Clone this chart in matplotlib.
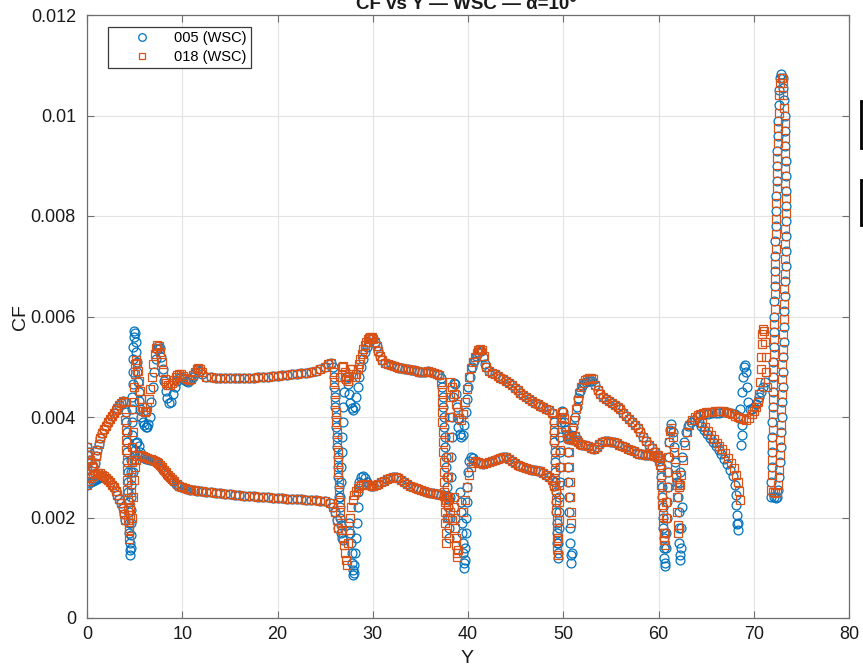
import numpy as np
import matplotlib
matplotlib.use("Agg")
import matplotlib.pyplot as plt
from matplotlib.patches import Rectangle

plt.rcParams['font.family'] = ['Liberation Sans', 'DejaVu Sans']

# all pairs are (Y, CF * 1e3)

# --- parts where both runs lie on top of each other ---
start_cluster = [(0.0, 2.65), (0.0, 2.8), (0.0, 2.95), (0.0, 3.1), (0.0, 3.25), (0.05, 3.4)]
upper_rise = [(0.2, 3.3), (0.35, 3.15), (0.5, 3.02), (0.65, 3.0), (0.8, 3.08), (0.95, 3.22), (1.1, 3.35),
              (1.25, 3.47), (1.4, 3.58), (1.6, 3.68), (1.8, 3.76), (2.0, 3.83), (2.2, 3.9), (2.4, 3.96),
              (2.6, 4.02), (2.8, 4.08), (3.0, 4.13), (3.2, 4.18), (3.4, 4.23), (3.6, 4.28), (3.8, 4.31),
              (4.0, 4.3)]
upper_flat = [(12.5, 4.8), (13.0, 4.79), (13.5, 4.78), (14.0, 4.78), (14.5, 4.78), (15.0, 4.77), (15.5, 4.77),
              (16.0, 4.77), (16.5, 4.77), (17.0, 4.77), (17.5, 4.78), (18.0, 4.79), (18.5, 4.8), (19.0, 4.8),
              (19.5, 4.81), (20.0, 4.82), (20.5, 4.83), (21.0, 4.84), (21.5, 4.85), (22.0, 4.86), (22.5, 4.87),
              (23.0, 4.88), (23.5, 4.9), (24.0, 4.92), (24.5, 4.96), (25.0, 5.0), (25.3, 5.05), (25.6, 5.08)]
lower_flat = [(12.5, 2.51), (13.0, 2.5), (13.5, 2.49), (14.0, 2.48), (14.5, 2.47), (15.0, 2.46), (15.5, 2.45),
              (16.0, 2.44), (16.5, 2.43), (17.0, 2.42), (17.5, 2.42), (18.0, 2.41), (18.5, 2.4), (19.0, 2.4),
              (19.5, 2.39), (20.0, 2.38), (20.5, 2.38), (21.0, 2.37), (21.5, 2.37), (22.0, 2.36), (22.5, 2.36),
              (23.0, 2.35), (23.5, 2.35), (24.0, 2.34), (24.5, 2.33), (25.0, 2.32), (25.5, 2.28),
              (25.8, 2.2), (26.0, 2.1), (26.2, 1.95), (26.4, 1.8)]
upper_mid = [(30.2, 5.5), (30.4, 5.42), (30.6, 5.32), (30.8, 5.22), (31.0, 5.14), (31.3, 5.08), (31.6, 5.05),
             (31.9, 5.03), (32.2, 5.01), (32.5, 4.99), (32.8, 4.98), (33.1, 4.97), (33.4, 4.96), (33.7, 4.95),
             (34.0, 4.94), (34.3, 4.93), (34.6, 4.91), (34.9, 4.9), (35.2, 4.89), (35.5, 4.9), (35.8, 4.92),
             (36.1, 4.9), (36.4, 4.88), (36.7, 4.86), (37.0, 4.83)]
lower_mid = [(30.0, 2.63), (30.3, 2.64), (30.6, 2.66), (30.9, 2.7), (31.2, 2.73), (31.5, 2.76), (31.8, 2.78),
             (32.1, 2.8), (32.4, 2.81), (32.7, 2.79), (33.0, 2.75), (33.3, 2.71), (33.6, 2.67), (33.9, 2.63),
             (34.2, 2.6), (34.5, 2.58), (34.8, 2.56), (35.1, 2.54), (35.4, 2.52), (35.7, 2.5), (36.0, 2.49),
             (36.3, 2.48), (36.6, 2.47), (36.9, 2.46), (37.2, 2.45), (37.5, 2.43)]
upper_42 = [(41.9, 5.0), (42.2, 4.92), (42.5, 4.88), (42.8, 4.85), (43.1, 4.81), (43.4, 4.78), (43.7, 4.75),
            (44.0, 4.72), (44.3, 4.68), (44.6, 4.63), (44.9, 4.58), (45.2, 4.53), (45.5, 4.48), (45.8, 4.43),
            (46.1, 4.39), (46.4, 4.35), (46.7, 4.31), (47.0, 4.28), (47.3, 4.25), (47.6, 4.22), (47.9, 4.19),
            (48.2, 4.16), (48.5, 4.13), (48.8, 4.08)]
lower_42 = [(40.7, 3.12), (41.0, 3.1), (41.3, 3.08), (41.6, 3.07), (41.9, 3.08), (42.2, 3.1), (42.5, 3.12),
            (42.8, 3.14), (43.1, 3.16), (43.4, 3.18), (43.7, 3.2), (44.0, 3.2), (44.3, 3.17), (44.6, 3.13),
            (44.9, 3.09), (45.2, 3.05), (45.5, 3.02), (45.8, 3.0), (46.1, 2.98), (46.4, 2.96), (46.7, 2.95),
            (47.0, 2.94), (47.3, 2.93), (47.6, 2.92), (47.9, 2.89), (48.2, 2.85), (48.5, 2.81), (48.8, 2.75)]
upper_53 = [(53.3, 4.63), (53.6, 4.53), (53.9, 4.46), (54.2, 4.4), (54.5, 4.36), (54.8, 4.31), (55.1, 4.27),
            (55.4, 4.23), (55.7, 4.2), (56.0, 4.16), (56.3, 4.08), (56.6, 4.02), (56.9, 3.97), (57.2, 3.9),
            (57.5, 3.84), (57.8, 3.78), (58.1, 3.7), (58.4, 3.6), (58.7, 3.52), (59.0, 3.45), (59.3, 3.38),
            (59.6, 3.31), (59.9, 3.24), (60.1, 3.18)]
lower_51 = [(51.0, 3.55), (51.2, 3.62), (51.4, 3.55), (51.6, 3.5), (51.8, 3.47), (52.0, 3.45), (52.3, 3.44),
            (52.6, 3.42), (52.9, 3.38), (53.2, 3.36), (53.5, 3.4), (53.8, 3.46), (54.1, 3.5), (54.4, 3.52),
            (54.7, 3.52), (55.0, 3.5), (55.3, 3.5), (55.6, 3.48), (55.9, 3.45), (56.2, 3.42), (56.5, 3.4),
            (56.8, 3.37), (57.1, 3.35), (57.4, 3.32), (57.7, 3.29), (58.0, 3.27), (58.3, 3.26), (58.6, 3.25),
            (58.9, 3.24), (59.2, 3.24), (59.5, 3.23), (59.8, 3.2), (60.1, 3.12)]

# --- 005 (WSC) ---
b_lower0 = [(0.2, 2.68), (0.4, 2.7), (0.6, 2.72), (0.8, 2.75), (1.0, 2.77), (1.2, 2.79), (1.4, 2.8), (1.6, 2.8),
            (1.8, 2.79), (2.0, 2.77), (2.2, 2.74), (2.4, 2.7), (2.6, 2.65), (2.8, 2.6), (3.0, 2.53), (3.2, 2.45),
            (3.4, 2.37), (3.6, 2.28), (3.75, 2.18), (3.9, 2.06), (4.0, 1.95)]
b_nose = [(4.1, 4.1), (4.13, 3.9), (4.16, 3.7), (4.19, 3.5), (4.22, 3.3), (4.25, 3.1), (4.28, 2.9), (4.3, 2.7),
          (4.33, 2.5), (4.36, 2.3), (4.39, 2.1), (4.42, 1.9), (4.45, 1.7), (4.48, 1.5), (4.5, 1.35), (4.53, 1.25),
          (4.58, 1.4), (4.6, 1.65), (4.62, 1.9), (4.63, 2.15), (4.64, 2.4), (4.65, 2.65), (4.66, 2.9), (4.67, 3.15),
          (4.68, 3.4), (4.7, 3.65), (4.72, 3.9), (4.74, 4.15), (4.76, 4.4), (4.78, 4.65), (4.8, 4.9), (4.83, 5.15),
          (4.86, 5.4), (4.9, 5.6), (4.96, 5.72), (5.04, 5.68), (5.1, 5.5), (5.16, 5.3), (5.22, 5.1), (5.28, 4.9),
          (5.35, 4.7), (5.42, 4.5), (5.5, 4.32), (5.6, 4.15), (5.72, 4.0), (5.86, 3.9), (6.0, 3.84), (6.15, 3.8),
          (6.3, 3.8), (6.45, 3.86)]
b_wave = [(6.6, 4.0), (6.75, 4.3), (6.9, 4.6), (7.05, 4.9), (7.2, 5.15), (7.35, 5.35), (7.5, 5.42), (7.65, 5.38),
          (7.8, 5.2), (7.95, 4.95), (8.1, 4.72), (8.25, 4.52), (8.45, 4.37), (8.65, 4.28), (8.85, 4.3), (9.05, 4.45),
          (9.25, 4.6), (9.45, 4.72), (9.65, 4.78), (9.85, 4.8), (10.1, 4.76), (10.35, 4.72), (10.6, 4.7),
          (10.85, 4.73), (11.1, 4.8), (11.35, 4.88), (11.6, 4.93), (11.85, 4.92), (12.1, 4.85)]
b_lower1 = [(4.85, 2.9), (4.95, 3.15), (5.05, 3.35), (5.15, 3.48), (5.3, 3.5), (5.45, 3.42), (5.6, 3.3),
            (5.8, 3.22), (6.0, 3.18), (6.2, 3.17), (6.4, 3.16), (6.6, 3.15), (6.8, 3.14), (7.0, 3.12), (7.2, 3.1),
            (7.4, 3.08), (7.6, 3.05), (7.8, 3.0), (8.0, 2.95), (8.2, 2.9), (8.4, 2.85), (8.6, 2.8), (8.8, 2.76),
            (9.0, 2.72), (9.3, 2.67), (9.6, 2.62), (9.9, 2.6), (10.2, 2.58), (10.5, 2.56), (10.8, 2.55),
            (11.2, 2.54), (11.6, 2.53), (12.0, 2.52)]
b_j1 = [(25.8, 5.0), (25.9, 4.8), (25.95, 4.6), (26.0, 4.4), (26.05, 4.2), (26.1, 4.0), (26.15, 3.8), (26.2, 3.6),
        (26.25, 3.4), (26.3, 3.2), (26.35, 3.0), (26.4, 2.8), (26.45, 2.6), (26.5, 2.4), (26.55, 2.2), (26.6, 2.0),
        (26.65, 1.85), (26.7, 1.7), (26.8, 1.6), (26.9, 1.55),
        (26.6, 2.4), (26.65, 2.7), (26.7, 3.0), (26.75, 3.3), (26.8, 3.6), (26.85, 3.9), (26.9, 4.2), (26.95, 4.5),
        (27.05, 4.75), (27.2, 4.8), (27.35, 4.65), (27.5, 4.45), (27.65, 4.28), (27.8, 4.17), (27.95, 4.14),
        (28.1, 4.2), (28.2, 4.4), (28.4, 4.6), (28.6, 4.8), (28.8, 5.0), (29.0, 5.15), (29.2, 5.3), (29.4, 5.4),
        (29.6, 5.5), (29.8, 5.55), (30.0, 5.58),
        (27.5, 1.9), (27.6, 1.7), (27.7, 1.5), (27.8, 1.3), (27.85, 1.1), (27.9, 0.95), (27.95, 0.86), (28.0, 0.9),
        (28.05, 1.05), (28.1, 1.3), (28.2, 1.6), (28.3, 1.9), (28.4, 2.2), (28.5, 2.5), (28.6, 2.7), (28.8, 2.8),
        (29.0, 2.82), (29.2, 2.78), (29.4, 2.7), (29.6, 2.64), (29.8, 2.62)]
b_j2 = [(37.2, 4.78), (37.3, 4.6), (37.35, 4.4), (37.4, 4.2), (37.45, 4.0), (37.5, 3.8), (37.55, 3.6), (37.6, 3.4),
        (37.65, 3.2), (37.7, 3.0), (37.75, 2.8), (37.8, 2.6), (37.85, 2.4), (37.9, 2.2), (37.95, 2.0), (38.0, 1.8),
        (38.05, 1.6), (38.1, 2.0), (38.15, 2.4), (38.2, 2.8), (38.25, 3.2), (38.3, 3.6), (38.35, 4.0), (38.4, 4.4),
        (38.5, 4.68), (38.6, 4.65), (38.7, 4.45), (38.8, 4.2), (38.9, 3.98), (39.0, 3.8), (39.15, 3.66),
        (39.3, 3.6), (39.45, 3.65), (39.6, 3.85), (39.75, 4.1), (39.9, 4.35), (40.05, 4.6), (40.2, 4.8),
        (40.4, 5.0), (40.6, 5.12), (40.8, 5.22), (41.0, 5.3), (41.2, 5.34), (41.4, 5.32), (41.6, 5.2),
        (41.8, 5.05),
        (37.8, 2.42), (38.0, 2.35), (39.2, 2.5), (39.25, 2.3), (39.3, 2.1), (39.35, 1.9), (39.4, 1.7), (39.45, 1.5),
        (39.5, 1.3), (39.55, 1.1), (39.6, 1.0), (39.65, 1.15), (39.7, 1.4), (39.75, 1.7), (39.8, 2.0),
        (39.85, 2.3), (39.9, 2.6), (40.0, 2.9), (40.15, 3.12), (40.3, 3.2), (40.5, 3.18)]
b_j3 = [(49.0, 3.9), (49.03, 3.7), (49.06, 3.5), (49.09, 3.3), (49.12, 3.1), (49.15, 2.9), (49.18, 2.7),
        (49.21, 2.5), (49.24, 2.3), (49.27, 2.1), (49.3, 1.9), (49.33, 1.7), (49.36, 1.5), (49.4, 1.3),
        (49.43, 1.2), (49.5, 1.5), (49.53, 1.8), (49.56, 2.1), (49.59, 2.4), (49.62, 2.7), (49.65, 3.0),
        (49.68, 3.3), (49.71, 3.6), (49.75, 3.9), (49.82, 4.12), (49.95, 4.1), (50.1, 3.9), (50.25, 3.75),
        (50.4, 3.62), (50.55, 3.57), (50.7, 3.58), (50.45, 3.3), (50.5, 3.0), (50.55, 2.7), (50.6, 2.4),
        (50.65, 2.1), (50.7, 1.8), (50.75, 1.5), (50.8, 1.25), (50.85, 1.1), (50.9, 1.3), (50.85, 3.65),
        (51.0, 3.8), (51.2, 4.0), (51.4, 4.2), (51.6, 4.38), (51.8, 4.52), (52.0, 4.62), (52.2, 4.68),
        (52.4, 4.7), (52.6, 4.72), (52.8, 4.72), (53.0, 4.72), (49.0, 2.62)]
b_j4 = [(60.25, 3.0), (60.3, 2.8), (60.35, 2.6), (60.4, 2.4), (60.43, 2.2), (60.46, 2.0), (60.5, 1.8),
        (60.53, 1.6), (60.56, 1.4), (60.6, 1.2), (60.65, 1.03), (60.7, 1.1), (60.75, 1.4), (60.8, 1.7),
        (60.85, 2.0), (60.9, 2.3), (60.95, 2.6), (61.0, 2.9), (61.05, 3.2), (61.1, 3.5), (61.2, 3.75),
        (61.35, 3.87), (61.5, 3.7), (61.6, 3.4), (61.7, 3.1), (61.8, 2.85), (61.95, 2.7), (62.1, 2.68),
        (62.05, 2.4), (62.1, 2.1), (62.15, 1.8), (62.2, 1.5), (62.25, 1.25), (62.3, 1.15), (62.35, 1.4),
        (62.4, 1.8), (62.45, 2.2), (62.3, 2.9), (62.5, 3.2), (62.7, 3.5), (62.9, 3.7), (63.1, 3.82), (63.4, 3.9),
        (63.7, 3.95), (64.0, 4.0), (64.4, 4.03), (64.8, 4.05), (65.2, 4.06), (65.6, 4.07), (66.0, 4.08),
        (66.4, 4.08), (66.8, 4.1), (67.2, 4.1), (67.6, 4.08), (68.0, 4.05)]
b_tail = [(64.2, 3.9), (64.5, 3.82), (64.8, 3.74), (65.1, 3.66), (65.4, 3.58), (65.7, 3.5), (66.0, 3.42),
          (66.3, 3.34), (66.6, 3.26), (66.9, 3.16), (67.2, 3.06), (67.5, 2.95), (67.8, 2.82), (68.0, 2.65),
          (68.1, 2.45), (68.15, 2.25), (68.2, 2.05), (68.25, 1.88), (68.3, 1.76), (68.35, 1.9),
          (68.7, 3.45), (68.75, 3.65), (68.8, 3.85),
          (68.3, 4.02), (68.6, 4.15), (68.8, 4.5), (68.9, 4.8), (69.0, 5.0), (69.1, 5.03), (69.2, 4.9),
          (69.3, 4.6), (69.4, 4.3), (69.6, 4.15), (69.8, 4.15), (70.0, 4.2), (70.2, 4.25), (70.4, 4.32),
          (70.6, 4.4), (70.8, 4.5), (71.0, 4.6), (71.2, 4.7)]
b_spike = [(71.8, 2.4), (71.85, 2.7), (71.88, 3.0), (71.9, 3.3), (71.93, 3.6), (71.95, 3.9), (71.98, 4.2),
           (72.0, 4.5), (72.03, 4.8), (72.05, 5.1), (72.08, 5.4), (72.1, 5.7), (72.13, 6.0), (72.15, 6.3),
           (72.18, 6.6), (72.2, 6.9), (72.23, 7.2), (72.26, 7.5), (72.3, 7.8), (72.33, 8.1), (72.36, 8.4),
           (72.4, 8.7), (72.43, 9.0), (72.47, 9.3), (72.5, 9.6), (72.55, 9.9), (72.6, 10.2), (72.68, 10.5),
           (72.78, 10.75), (72.9, 10.82), (73.02, 10.75), (73.12, 10.55), (73.2, 10.3), (73.26, 10.0),
           (73.3, 9.7), (73.33, 9.4), (73.36, 9.1), (73.38, 8.8), (73.39, 8.5), (73.4, 8.2), (73.4, 7.9),
           (73.39, 7.6), (73.37, 7.3), (73.34, 7.0), (73.3, 6.7), (73.26, 6.4), (73.22, 6.1), (73.18, 5.8),
           (73.14, 5.5), (73.1, 5.2), (73.06, 4.9), (73.02, 4.6), (72.97, 4.3), (72.92, 4.0), (72.87, 3.7),
           (72.82, 3.4), (72.76, 3.1), (72.68, 2.8), (72.58, 2.55), (72.45, 2.4), (72.3, 2.38), (72.1, 2.4)]

# --- 018 (WSC) ---
o_lower0 = [(0.2, 2.72), (0.4, 2.78), (0.6, 2.83), (0.8, 2.86), (1.0, 2.88), (1.2, 2.89), (1.4, 2.88),
            (1.6, 2.85), (1.8, 2.82), (2.0, 2.78), (2.2, 2.74), (2.4, 2.7), (2.6, 2.65), (2.8, 2.6), (3.0, 2.53),
            (3.2, 2.45), (3.4, 2.37), (3.6, 2.28), (3.75, 2.18), (3.9, 2.06), (4.0, 1.95)]
o_nose = [(4.0, 4.15), (4.03, 3.95), (4.06, 3.75), (4.09, 3.55), (4.12, 3.35), (4.15, 3.15), (4.18, 2.95),
          (4.21, 2.75), (4.24, 2.55), (4.27, 2.35), (4.3, 2.15), (4.33, 1.95), (4.36, 1.75), (4.4, 1.58),
          (4.45, 1.8), (4.5, 2.05), (4.55, 2.2), (4.6, 2.5), (4.65, 2.8), (4.7, 3.1), (4.75, 3.4), (4.8, 3.7),
          (4.85, 4.0), (4.9, 4.3), (4.95, 4.6), (5.0, 4.85), (5.07, 5.05), (5.15, 5.13), (5.25, 5.08),
          (5.35, 4.92), (5.45, 4.72), (5.55, 4.52), (5.65, 4.35), (5.78, 4.2), (5.92, 4.12), (6.06, 4.1),
          (6.2, 4.12), (6.35, 4.2), (6.5, 4.35)]
o_wave = [(6.65, 4.55), (6.8, 4.8), (6.95, 5.05), (7.1, 5.25), (7.25, 5.38), (7.4, 5.43), (7.55, 5.42),
          (7.7, 5.3), (7.85, 5.1), (8.0, 4.9), (8.15, 4.75), (8.3, 4.67), (8.5, 4.63), (8.7, 4.64), (8.9, 4.68),
          (9.1, 4.74), (9.3, 4.8), (9.5, 4.84), (9.7, 4.86), (9.9, 4.86), (10.1, 4.82), (10.3, 4.78),
          (10.5, 4.75), (10.7, 4.74), (10.9, 4.76), (11.1, 4.83), (11.3, 4.9), (11.5, 4.96), (11.7, 4.98),
          (11.9, 4.96), (12.1, 4.9)]
o_lower1 = [(4.7, 2.0), (4.8, 2.4), (4.9, 2.75), (5.0, 3.0), (5.15, 3.15), (5.3, 3.22), (5.5, 3.24), (5.7, 3.24),
            (5.9, 3.22), (6.1, 3.2), (6.3, 3.18), (6.5, 3.17), (6.7, 3.16), (6.9, 3.14), (7.1, 3.12), (7.3, 3.1),
            (7.5, 3.08), (7.7, 3.05), (7.9, 3.0), (8.1, 2.95), (8.3, 2.9), (8.5, 2.85), (8.7, 2.8), (8.9, 2.76),
            (9.1, 2.72), (9.4, 2.67), (9.7, 2.63), (10.0, 2.6), (10.3, 2.58), (10.6, 2.56), (10.9, 2.55),
            (11.3, 2.54), (11.7, 2.53), (12.1, 2.52)]
o_j1 = [(25.9, 4.9), (25.95, 4.7), (26.0, 4.5), (26.05, 4.3), (26.1, 4.1), (26.15, 3.9), (26.2, 3.7),
        (26.25, 3.5), (26.3, 3.3), (26.35, 3.1), (26.4, 2.9), (26.45, 2.7), (26.5, 2.5), (26.55, 2.3),
        (26.6, 2.1), (26.7, 1.9), (26.8, 1.75), (26.9, 1.6), (27.0, 1.45), (27.1, 1.3), (27.2, 1.15),
        (27.3, 1.05),
        (26.6, 4.8), (26.75, 5.0), (26.9, 5.02), (27.05, 4.9), (27.2, 4.75), (27.35, 4.72), (27.5, 4.82),
        (27.65, 4.95), (27.8, 4.95), (27.95, 4.85), (28.1, 4.8), (28.25, 4.85), (28.4, 4.95), (28.55, 5.05),
        (28.7, 5.15), (28.85, 5.25), (29.0, 5.35), (29.15, 5.43), (29.3, 5.5), (29.45, 5.55), (29.6, 5.58),
        (29.75, 5.6), (29.9, 5.6), (30.05, 5.56),
        (27.4, 1.5), (27.5, 1.75), (27.6, 2.0), (27.75, 2.2), (27.9, 2.35), (28.05, 2.45), (28.2, 2.52),
        (28.4, 2.58), (28.6, 2.62), (28.8, 2.65), (29.0, 2.67), (29.3, 2.66), (29.6, 2.64), (29.9, 2.63)]
o_j2 = [(37.2, 4.7), (37.23, 4.5), (37.26, 4.3), (37.29, 4.1), (37.32, 3.9), (37.35, 3.7), (37.38, 3.5),
        (37.41, 3.3), (37.44, 3.1), (37.47, 2.9), (37.5, 2.7), (37.53, 2.5), (37.56, 2.3), (37.6, 2.1),
        (37.63, 1.9), (37.66, 1.7), (37.7, 1.5),
        (37.8, 2.0), (37.85, 2.4), (37.9, 2.8), (37.95, 3.2), (38.0, 3.6), (38.05, 4.0), (38.08, 4.4),
        (38.1, 4.7), (38.3, 4.6), (38.5, 4.45), (38.7, 4.25), (38.9, 4.1), (39.1, 3.98), (39.3, 3.94),
        (39.5, 4.05), (39.7, 4.3), (39.9, 4.55), (40.1, 4.8), (40.3, 4.98), (40.5, 5.1), (40.7, 5.2),
        (40.9, 5.28), (41.1, 5.33), (41.3, 5.36), (41.5, 5.34), (41.7, 5.22),
        (37.7, 2.35), (37.9, 2.25), (38.1, 2.1), (38.3, 1.95), (38.5, 2.4), (38.55, 2.2), (38.6, 2.0),
        (38.65, 1.8), (38.7, 1.6), (38.75, 1.45), (38.8, 1.3), (38.85, 1.22), (38.95, 1.35),
        (39.5, 2.1), (39.7, 2.35), (39.9, 2.6), (40.1, 2.85), (40.3, 3.0), (40.5, 3.08)]
o_j3 = [(49.0, 3.95), (49.03, 3.75), (49.06, 3.55), (49.09, 3.35), (49.12, 3.15), (49.15, 2.95), (49.18, 2.75),
        (49.21, 2.55), (49.24, 2.35), (49.27, 2.15), (49.3, 1.95), (49.33, 1.75), (49.36, 1.55), (49.39, 1.38),
        (49.42, 1.25), (49.5, 1.6), (49.53, 1.95), (49.56, 2.3), (49.6, 2.65), (49.64, 3.0), (49.68, 3.35),
        (49.72, 3.7), (49.78, 4.0), (49.9, 4.1), (50.05, 3.98), (50.2, 3.8), (50.35, 3.66), (50.5, 3.58),
        (50.65, 3.56), (50.8, 3.6), (50.6, 3.3), (50.65, 3.0), (50.7, 2.7), (50.75, 2.4), (50.8, 2.1),
        (50.85, 1.9), (50.95, 3.75), (51.1, 3.95), (51.3, 4.15), (51.5, 4.33), (51.7, 4.48), (51.9, 4.6),
        (52.1, 4.68), (52.3, 4.73), (52.5, 4.76), (52.7, 4.78), (52.9, 4.78), (53.1, 4.75), (49.0, 2.62)]
o_j4 = [(60.2, 3.05), (60.25, 2.85), (60.3, 2.65), (60.35, 2.45), (60.4, 2.25), (60.45, 2.05), (60.5, 1.85),
        (60.55, 1.7), (60.6, 1.55), (60.65, 1.45), (60.7, 1.7), (60.75, 2.0), (60.8, 2.3), (60.85, 2.6),
        (60.9, 2.9), (60.95, 3.2), (61.05, 3.5), (61.2, 3.72), (61.35, 3.78), (61.5, 3.6), (61.6, 3.3),
        (61.7, 3.0), (61.8, 2.8), (61.95, 2.65), (62.1, 2.6), (62.25, 2.65), (61.9, 2.4), (61.95, 2.1),
        (62.0, 1.85), (62.05, 1.7), (62.4, 2.85), (62.6, 3.15), (62.8, 3.45), (63.0, 3.7), (63.2, 3.85),
        (63.5, 3.95), (63.8, 4.0), (64.1, 4.04), (64.4, 4.06), (64.7, 4.08), (65.0, 4.09), (65.3, 4.1),
        (65.6, 4.1), (65.9, 4.11), (66.2, 4.12), (66.5, 4.12), (66.8, 4.11), (67.1, 4.1), (67.4, 4.08),
        (67.7, 4.05), (68.0, 4.02), (68.3, 4.0), (68.6, 3.98), (68.9, 3.96), (69.2, 3.95), (69.5, 3.98),
        (69.8, 4.05), (70.0, 4.12), (70.2, 4.2), (70.4, 4.3), (70.6, 4.45)]
o_tail = [(64.6, 3.88), (64.9, 3.8), (65.2, 3.72), (65.5, 3.64), (65.8, 3.56), (66.1, 3.48), (66.4, 3.42),
          (66.7, 3.36), (67.0, 3.28), (67.3, 3.18), (67.6, 3.08), (67.9, 2.98), (68.1, 2.85), (68.3, 2.7),
          (68.45, 2.52), (68.55, 2.35),
          (70.7, 4.7), (70.75, 4.95), (70.8, 5.2), (70.85, 5.45), (70.9, 5.65), (71.0, 5.75), (71.1, 5.72),
          (71.2, 5.5), (71.25, 5.2), (71.3, 4.9), (71.35, 4.6)]
o_spike = [(71.85, 2.55), (71.88, 2.85), (71.91, 3.15), (71.94, 3.45), (71.97, 3.75), (72.0, 4.05), (72.02, 4.35),
           (72.05, 4.65), (72.07, 4.95), (72.1, 5.25), (72.12, 5.55), (72.15, 5.85), (72.18, 6.15), (72.2, 6.45),
           (72.23, 6.75), (72.26, 7.05), (72.29, 7.35), (72.32, 7.65), (72.35, 7.95), (72.38, 8.25),
           (72.42, 8.55), (72.45, 8.85), (72.49, 9.15), (72.53, 9.45), (72.57, 9.75), (72.62, 10.05),
           (72.7, 10.4), (72.8, 10.65), (72.92, 10.75), (73.04, 10.65), (73.12, 10.4), (73.18, 10.15),
           (73.23, 9.85), (73.27, 9.55), (73.3, 9.25), (73.32, 8.95), (73.33, 8.65), (73.34, 8.35),
           (73.34, 8.05), (73.33, 7.75), (73.31, 7.45), (73.28, 7.15), (73.25, 6.85), (73.21, 6.55),
           (73.17, 6.25), (73.13, 5.95), (73.09, 5.65), (73.05, 5.35), (73.01, 5.05), (72.97, 4.75),
           (72.93, 4.45), (72.88, 4.15), (72.83, 3.85), (72.78, 3.55), (72.72, 3.25), (72.65, 2.95),
           (72.55, 2.65), (72.4, 2.5), (72.2, 2.48), (72.0, 2.5)]

shared = [start_cluster, upper_rise, upper_flat, lower_flat, upper_mid, lower_mid,
          upper_42, lower_42, upper_53, lower_51]
run_005 = shared + [b_lower0, b_nose, b_wave, b_lower1, b_j1, b_j2, b_j3, b_j4, b_tail, b_spike]
run_018 = shared + [o_lower0, o_nose, o_wave, o_lower1, o_j1, o_j2, o_j3, o_j4, o_tail, o_spike]


def unpack(segments):
    pts = [p for seg in segments for p in seg]
    y = np.array([p[0] for p in pts])
    cf = np.array([p[1] for p in pts]) * 1e-3
    return y, cf


fig = plt.figure(figsize=(8.63, 6.66), dpi=100)
ax = fig.add_axes([87 / 863, 48 / 666, 762 / 863, 603 / 666])

y5, cf5 = unpack(run_005)
y18, cf18 = unpack(run_018)
ax.plot(y5, cf5, ls='none', marker='o', ms=6.4, mfc='none', mec='#0072BD', mew=0.9, label='005 (WSC)')
ax.plot(y18, cf18, ls='none', marker='s', ms=5.6, mfc='none', mec='#D95319', mew=0.9, label='018 (WSC)')

ax.set_xlim(0, 80)
ax.set_ylim(0, 0.012)
ax.set_xticks(np.arange(0, 81, 10))
ax.set_yticks([0, 0.002, 0.004, 0.006, 0.008, 0.01, 0.012])
ax.set_yticklabels(['0', '0.002', '0.004', '0.006', '0.008', '0.01', '0.012'])
ax.grid(True, color='#e3e3e3', linewidth=0.8)
ax.set_axisbelow(True)
for sp in ax.spines.values():
    sp.set_color('#6e6e6e')
    sp.set_linewidth(0.9)
ax.tick_params(direction='in', length=5, width=0.8, color='#6e6e6e', top=True, right=True,
               labelsize=13, labelcolor='#1a1a1a')
ax.tick_params(axis='x', pad=6)
ax.tick_params(axis='y', pad=8)

leg = ax.legend(loc='upper left', bbox_to_anchor=(108 / 863, 1 - 27 / 666), bbox_transform=fig.transFigure,
                fontsize=10.5, handlelength=4.0, handletextpad=0.2, borderpad=0.3, labelspacing=0.3,
                fancybox=False, framealpha=1, borderaxespad=0, markerscale=0.85)
leg.get_frame().set_edgecolor('#3a3a3a')
leg.get_frame().set_linewidth(0.9)

fig.text(466.5 / 863, 1 - 9 / 666, 'CF vs Y \u2014 WSC \u2014 \u03b1=10\u00b0', ha='center', va='baseline',
         fontsize=13.5, fontweight='bold', color='#1a1a1a')
fig.text(467 / 863, 1 - 663 / 666, 'Y', ha='center', va='baseline', fontsize=14, color='#1a1a1a')
fig.text(20 / 863, 1 - 317 / 666, 'CF', ha='center', va='center', rotation=90, fontsize=14, color='#1a1a1a')

# bits of the neighbouring window showing at the right edge
for top, bot in [(101, 148), (180, 225)]:
    fig.patches.append(Rectangle((861 / 863, 1 - bot / 666), 0.02, (bot - top) / 666,
                                 transform=fig.transFigure, facecolor='white', edgecolor='black',
                                 linewidth=2, figure=fig))

fig.savefig('out.png', dpi=100)
